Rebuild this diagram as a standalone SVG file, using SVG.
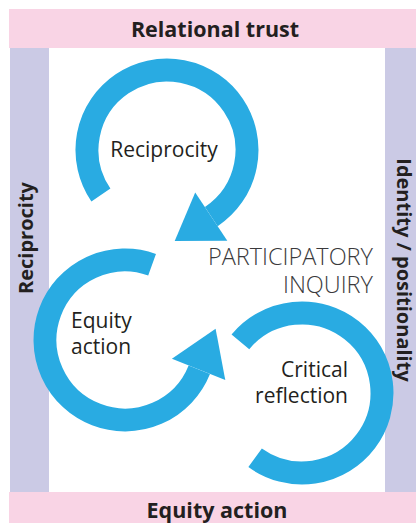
<svg xmlns="http://www.w3.org/2000/svg" width="416" height="523" viewBox="0 0 416 523">
<style>
.band{fill:#f9d4e5}
.bar{fill:#cbcae5}
.ring{fill:none;stroke:#29abe2;stroke-width:23}
.head{fill:#29abe2}
.lbl{font-family:"Open Sans","Liberation Sans",sans-serif;font-size:21px;fill:#231f20}
.side{font-family:"Open Sans","Liberation Sans",sans-serif;font-size:21.5px;font-weight:bold;fill:#231f20}
.vside{font-family:"Open Sans","Liberation Sans",sans-serif;font-size:20px;font-weight:bold;fill:#231f20}
.pi{font-family:"Open Sans","Liberation Sans",sans-serif;font-size:23.5px;font-weight:300;fill:#3a3a3c}
</style>
<rect width="416" height="523" fill="#ffffff"/>
<g id="band-top"><rect class="band" x="9" y="9" width="407" height="39"/><text class="side" x="215" y="37" text-anchor="middle">Relational trust</text></g>
<g id="band-bottom"><rect class="band" x="9" y="492" width="407" height="31"/><text class="side" x="217" y="518" text-anchor="middle">Equity action</text></g>
<g id="bar-left"><rect class="bar" x="10" y="48" width="39" height="444"/><text class="vside" transform="translate(33,238) rotate(-90)" text-anchor="middle">Reciprocity</text></g>
<g id="bar-right"><rect class="bar" x="385" y="48" width="31" height="444"/><text class="vside" transform="translate(397,270) rotate(90)" text-anchor="middle">Identity / positionality</text></g>
<g id="connectors">
<path class="ring" d="M100.9,195.1 A80,80 0 1 1 211.3,216.6"/>
<polygon class="head" points="195.2,192.5 227.3,240.8 174.7,240.9"/>
<path class="ring" d="M152.1,264.7 A80,80 0 1 0 199.3,369.7"/>
<polygon class="head" points="171.9,358.8 225.3,380.1 215.6,328.8"/>
<path class="ring" d="M240.4,341.9 A80,80 0 1 1 255.1,457.8"/>
</g>
<g id="node-reciprocity"><text class="lbl" x="164" y="157" text-anchor="middle">Reciprocity</text></g>
<g id="node-equity"><text class="lbl" x="71" y="328">Equity</text><text class="lbl" x="71" y="354">action</text></g>
<g id="node-critical"><text class="lbl" x="348" y="377" text-anchor="end">Critical</text><text class="lbl" x="348" y="403" text-anchor="end">reflection</text></g>
<g id="center-label"><text class="pi" x="373" y="265" text-anchor="end">PARTICIPATORY</text><text class="pi" x="373" y="293" text-anchor="end">INQUIRY</text></g>
</svg>
